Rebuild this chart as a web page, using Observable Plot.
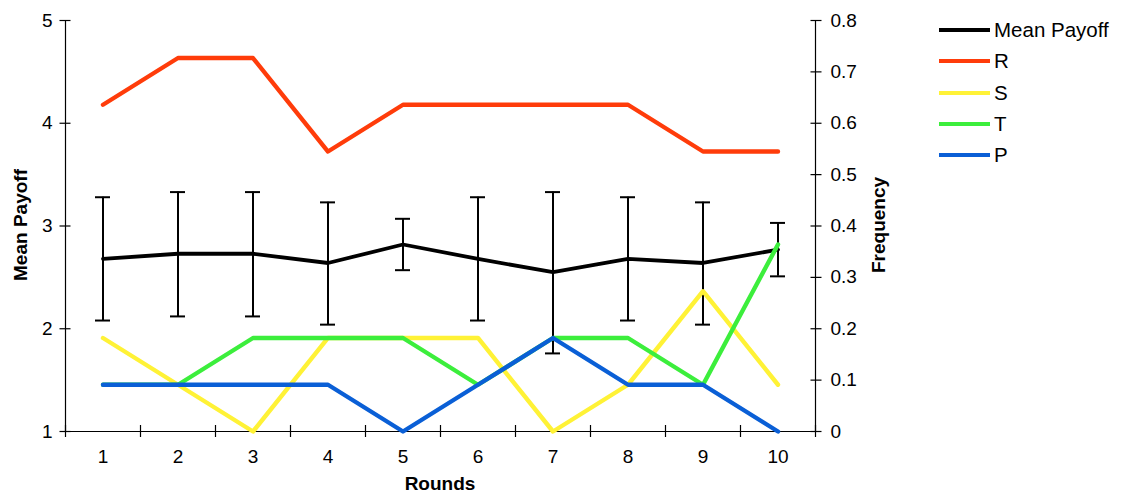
<!DOCTYPE html>
<html>
<head>
<meta charset="utf-8">
<script src="https://cdn.jsdelivr.net/npm/d3@7"></script>
<script src="https://cdn.jsdelivr.net/npm/@observablehq/plot@0.6"></script>
<style>
  html, body { margin: 0; padding: 0; background: #fff; }
  #wrap { position: relative; width: 1125px; height: 494px; font-family: "Liberation Sans", Arial, sans-serif; }
  #legend { position: absolute; left: 939px; top: 20px; }
  .item { position: absolute; left: 0; white-space: nowrap; font-size: 20.5px; color: #000; }
  .sw { position: absolute; left: 0; width: 51px; height: 4px; }
  .lab { position: absolute; left: 55px; top: -12px; }
</style>
</head>
<body>
<div id="wrap"></div>
<script>
const rounds = [1, 2, 3, 4, 5, 6, 7, 8, 9, 10];
const meanPayoff = [2.68, 2.73, 2.73, 2.64, 2.82, 2.68, 2.55, 2.68, 2.64, 2.77];
const errLow  = [2.08, 2.12, 2.12, 2.04, 2.57, 2.08, 1.76, 2.08, 2.04, 2.51];
const errHigh = [3.28, 3.33, 3.33, 3.23, 3.07, 3.28, 3.33, 3.28, 3.23, 3.03];
const freqR = [0.636, 0.727, 0.727, 0.545, 0.636, 0.636, 0.636, 0.636, 0.545, 0.545];
const freqS = [0.182, 0.091, 0, 0.182, 0.182, 0.182, 0, 0.091, 0.273, 0.091];
const freqT = [0.091, 0.091, 0.182, 0.182, 0.182, 0.091, 0.182, 0.182, 0.091, 0.364];
const freqP = [0.091, 0.091, 0.091, 0.091, 0, 0.091, 0.182, 0.091, 0.091, 0];
const payoffTicks = [1, 2, 3, 4, 5];
const freqTicks = [0, 0.1, 0.2, 0.3, 0.4, 0.5, 0.6, 0.7, 0.8];
const freqTickLabels = ["0", "0.1", "0.2", "0.3", "0.4", "0.5", "0.6", "0.7", "0.8"];
const seriesNames = ["Mean Payoff", "R", "S", "T", "P"];
const seriesColors = ["#000000", "#ff3c0a", "#fff236", "#3cee3c", "#0a5fd6"];

// Frequency axis (0..0.8) is drawn against the payoff axis (1..5)
const payoffDomain = [1, 5];
const freqDomain = [0, 0.8];
const freqToY = f => payoffDomain[0] + (f - freqDomain[0]) / (freqDomain[1] - freqDomain[0]) * (payoffDomain[1] - payoffDomain[0]);

const xDomain = [rounds[0] - 0.5, rounds[rounds.length - 1] + 0.5];
const boundaries = [...rounds.map(r => r - 0.5), rounds[rounds.length - 1] + 0.5];

const meanData = rounds.map((r, i) => ({round: r, mean: meanPayoff[i], low: errLow[i], high: errHigh[i]}));
const freqSeries = [freqR, freqS, freqT, freqP];
const freqData = freqSeries.map((arr, k) => rounds.map((r, i) => ({round: r, y: freqToY(arr[i]), s: seriesNames[k + 1]})));

const font = "Liberation Sans, Arial, sans-serif";

const chart = Plot.plot({
  width: 1125,
  height: 494,
  marginLeft: 65,
  marginRight: 310,
  marginTop: 20,
  marginBottom: 63,
  style: {fontFamily: font, background: "#fff", color: "#000", overflow: "visible"},
  x: {domain: xDomain},
  y: {domain: payoffDomain},
  marks: [
    // axis lines
    Plot.ruleY([payoffDomain[0]], {stroke: "#000", strokeWidth: 1.2}),
    Plot.ruleX(xDomain, {stroke: "#000", strokeWidth: 1.2}),
    // crossing ticks
    Plot.axisX({ticks: boundaries, tickSize: 12, dy: -6, tickFormat: () => "", label: null, strokeWidth: 1.2}),
    Plot.axisY({anchor: "left", ticks: payoffTicks, tickSize: 11, dx: 5.5, tickFormat: () => "", label: null, strokeWidth: 1.2}),
    Plot.axisY({anchor: "right", ticks: freqTicks.map(freqToY), tickSize: 11, dx: -5.5, tickFormat: () => "", label: null, strokeWidth: 1.2}),
    // tick labels
    Plot.axisX({ticks: rounds, tickSize: 0, tickPadding: 18, fontSize: 19, label: null, tickFormat: d => String(d)}),
    Plot.axisY({anchor: "left", ticks: payoffTicks, tickSize: 0, tickPadding: 13, fontSize: 19, label: null, tickFormat: d => String(d)}),
    Plot.axisY({anchor: "right", ticks: freqTicks.map(freqToY), tickSize: 0, tickPadding: 15, fontSize: 19, label: null, tickFormat: (d, i) => freqTickLabels[i]}),
    // error bars
    Plot.ruleX(meanData, {x: "round", y1: "low", y2: "high", stroke: "#000", strokeWidth: 2}),
    Plot.ruleY(meanData, {y: "low", x1: d => d.round - 0.1, x2: d => d.round + 0.1, stroke: "#000", strokeWidth: 2}),
    Plot.ruleY(meanData, {y: "high", x1: d => d.round - 0.1, x2: d => d.round + 0.1, stroke: "#000", strokeWidth: 2}),
    // mean payoff
    Plot.line(meanData, {x: "round", y: "mean", stroke: seriesColors[0], strokeWidth: 3.8}),
    // frequencies
    ...freqData.map((d, k) => Plot.line(d, {x: "round", y: "y", stroke: seriesColors[k + 1], strokeWidth: 4.4}))
  ]
});

const wrap = document.getElementById("wrap");
wrap.appendChild(chart);

// axis titles
const svg = d3.select(chart);
svg.append("text").attr("transform", "translate(27,225) rotate(-90)").attr("text-anchor", "middle")
  .attr("font-size", 19).attr("font-weight", "bold").attr("font-family", font).text("Mean Payoff");
svg.append("text").attr("transform", "translate(885,225) rotate(-90)").attr("text-anchor", "middle")
  .attr("font-size", 19).attr("font-weight", "bold").attr("font-family", font).text("Frequency");
svg.append("text").attr("x", 440).attr("y", 490).attr("text-anchor", "middle")
  .attr("font-size", 19).attr("font-weight", "bold").attr("font-family", font).text("Rounds");

// legend
const legend = document.createElement("div");
legend.id = "legend";
seriesNames.forEach((name, i) => {
  const item = document.createElement("div");
  item.className = "item";
  item.style.top = (10 + i * 31.3) + "px";
  const sw = document.createElement("span");
  sw.className = "sw";
  sw.style.background = seriesColors[i];
  sw.style.top = "-2px";
  const lab = document.createElement("span");
  lab.className = "lab";
  lab.textContent = name;
  item.appendChild(sw);
  item.appendChild(lab);
  legend.appendChild(item);
});
wrap.appendChild(legend);
</script>
</body>
</html>
